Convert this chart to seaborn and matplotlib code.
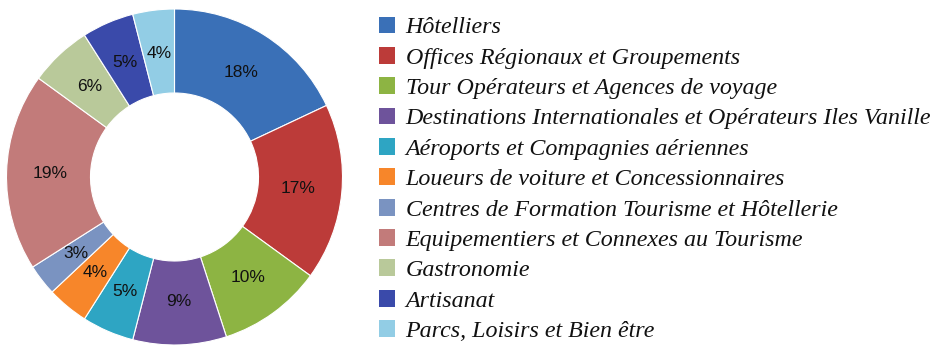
import matplotlib
matplotlib.use("Agg")
import matplotlib.pyplot as plt
import matplotlib.patches as mpatches
import seaborn as sns

# data
categories = [
    "Hôtelliers",
    "Offices Régionaux et Groupements",
    "Tour Opérateurs et Agences de voyage",
    "Destinations Internationales et Opérateurs Iles Vanille",
    "Aéroports et Compagnies aériennes",
    "Loueurs de voiture et Concessionnaires",
    "Centres de Formation Tourisme et Hôtellerie",
    "Equipementiers et Connexes au Tourisme",
    "Gastronomie",
    "Artisanat",
    "Parcs, Loisirs et Bien être",
]
shares = [18, 17, 10, 9, 5, 4, 3, 19, 6, 5, 4]
hex_colors = ["#3A70B7", "#BC3B39", "#8DB443", "#6E539B", "#2EA5C3", "#F7862A",
              "#7A93C1", "#C27B7A", "#B9C99A", "#3A4AAA", "#92CDE5"]

sns.set_theme(style="white")
palette = sns.color_palette(hex_colors)

fig = plt.figure(figsize=(9.36, 3.53), dpi=100)
ax = fig.add_axes([6 / 936, 8 / 353, 337 / 936, 336 / 353])

wedges, texts, autotexts = ax.pie(
    shares, colors=palette, startangle=90, counterclock=False,
    autopct="%d%%", pctdistance=0.74,
    wedgeprops=dict(width=0.5, edgecolor="white", linewidth=0.8),
    textprops=dict(fontsize=12.5, color="#111111", family="Liberation Sans"),
)
ax.set_aspect("equal")
ax.set_xlim(-1.0, 1.0)
ax.set_ylim(-1.0, 1.0)
ax.axis("off")

handles = [mpatches.Patch(facecolor=c, edgecolor="none") for c in palette]
leg = fig.legend(
    handles, categories, loc="upper left", bbox_to_anchor=(369 / 936, 1 - 7 / 353),
    frameon=False, handlelength=0.7, handleheight=0.7, handletextpad=0.42,
    labelspacing=0.355, borderaxespad=0,
    prop=dict(family="Liberation Serif", style="italic", size=17.3),
)
for t in leg.get_texts():
    t.set_color("#111111")

fig.savefig("out.png", dpi=100)
